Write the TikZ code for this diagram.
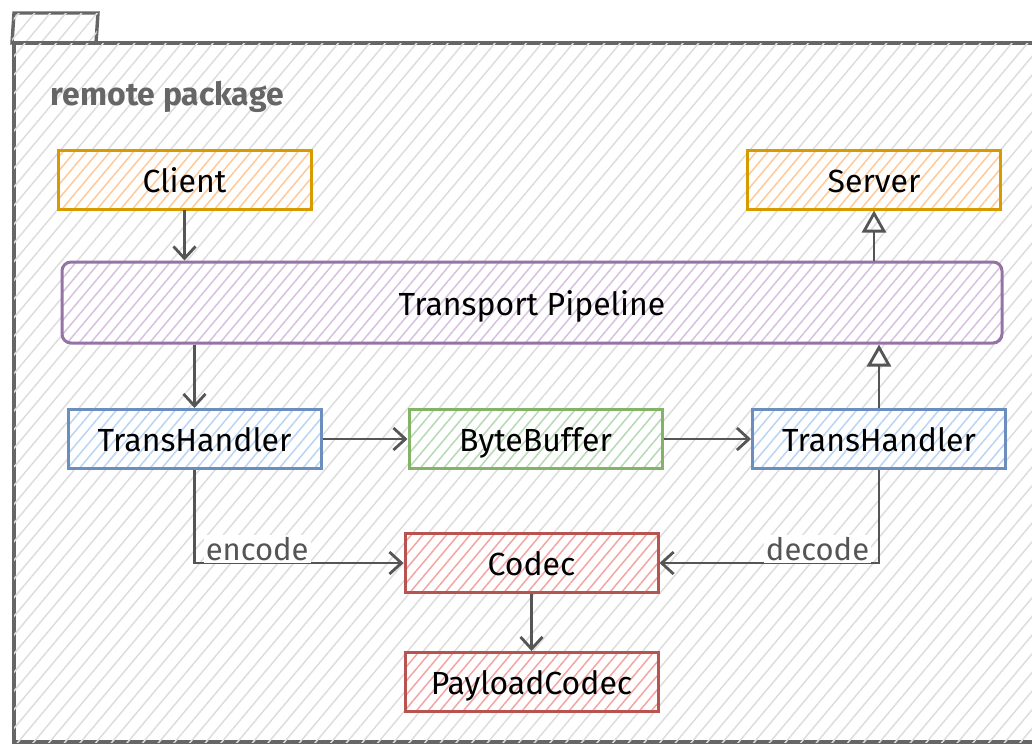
\documentclass[tikz,border=0pt]{standalone}
\usepackage{fontspec}
\setmainfont{Fira Sans}
\usepackage{tikz}
\usetikzlibrary{positioning,arrows.meta,patterns.meta}

\definecolor{frameline}{HTML}{666666}
\definecolor{hatchgray}{HTML}{DDDDDD}
\definecolor{linegray}{HTML}{555555}
\definecolor{orline}{HTML}{D79B00}
\definecolor{orfill}{HTML}{FFC99A}
\definecolor{puline}{HTML}{9673A6}
\definecolor{pufill}{HTML}{D6C2E0}
\definecolor{blline}{HTML}{6C8EBF}
\definecolor{blfill}{HTML}{B9D4F5}
\definecolor{grline}{HTML}{82B366}
\definecolor{grfill}{HTML}{B6DAB3}
\definecolor{reline}{HTML}{B85450}
\definecolor{refill}{HTML}{F3A5A2}

\begin{document}
\begin{tikzpicture}[x=1pt, y=-1pt, thick,
    box/.style = {draw, line width=3pt, minimum width=253pt, minimum height=59pt,
                  text height=25pt, text depth=0pt,
                  font=\fontsize{32}{36}\selectfont, text=black, preaction={fill=white},
                  pattern={Lines[angle=50, distance=9pt, line width=1.5pt]}},
    client/.style = {box, draw=orline, pattern color=orfill},
    pipe/.style = {box, draw=puline, pattern color=pufill, rounded corners=9pt,
                   minimum width=940pt, minimum height=81pt},
    handler/.style = {box, draw=blline, pattern color=blfill},
    buffer/.style = {box, draw=grline, pattern color=grfill},
    codec/.style = {box, draw=reline, pattern color=refill},
    link/.style = {draw=linegray, line width=2.8pt, -{Straight Barb[length=12pt, width=22pt]}},
    uplink/.style = {draw=linegray, line width=2.8pt, -{Triangle[open, length=22pt, width=24pt]}},
    tag/.style = {fill=white, text=linegray, font=\fontsize{31}{34}\selectfont, inner sep=2pt},
    frame/.style = {draw=frameline, line width=3.4pt, fill=white,
                    postaction={pattern={Lines[angle=50, distance=12pt, line width=1.5pt]}, pattern color=hatchgray}}]
            \clip (0,0) rectangle (1032,745);
            \useasboundingbox (0,0) rectangle (1032,745);
            % Package
            \draw[frame] (12,43) -- (14,13) -- (98,13) -- (96,43) -- cycle;
            \draw[frame] (14,43) rectangle (1045,742);
            \node[anchor=west, text=frameline, font=\bfseries\fontsize{32}{36}\selectfont] (title) at (47,97) {remote package};
            % Nodes
            \node[client] (client) at (184.5,179.5) {Client};
            \node[client] (server) at (874,179.5) {Server};
            \node[pipe] (pipe) at (532,302.5) {Transport Pipeline};
            \node[handler] (thl) at (194.5,439) {TransHandler};
            \node[buffer] (buf) at (535.5,439) {ByteBuffer};
            \node[handler] (thr) at (879,439) {TransHandler};
            \node[codec] (codec) at (531.5,563) {Codec};
            \node[codec] (payload) [below=57pt of codec] {PayloadCodec};
            % Edges
            \draw[link] (client.south) -- (client.south |- pipe.north);
            \draw[link] (thl.north |- pipe.south) -- (thl.north);
            \draw[link] (thl.east) -- (buf.west);
            \draw[link] (buf.east) -- (thr.west);
            \draw[uplink] (thr.north) -- (thr.north |- pipe.south);
            \draw[uplink] (server.south |- pipe.north) -- (server.south);
            \draw[link] (thl.south) |- node[tag, pos=0.65, anchor=south, yshift=-1pt] {encode} (codec.west);
            \draw[link] (thr.south) |- node[tag, pos=0.64, anchor=south, yshift=-1pt] {decode} (codec.east);
            \draw[link] (codec.south) -- (payload.north);
\end{tikzpicture}
\end{document}
